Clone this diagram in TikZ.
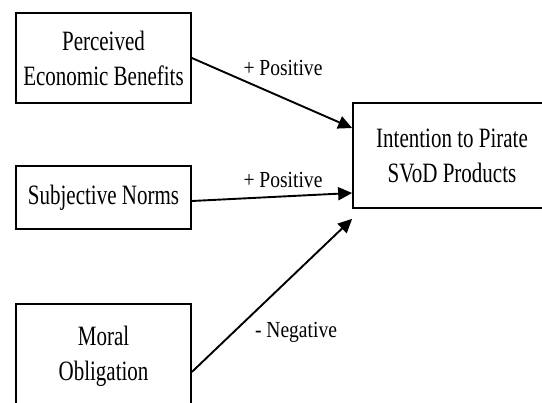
\documentclass[tikz,border=0pt]{standalone}
\usepackage{fontspec}
\setmainfont{Liberation Serif}[FakeStretch=0.75]
\newfontfamily\signfont{Liberation Serif}[FakeStretch=0.85]
\usepackage{tikz}
\usetikzlibrary{arrows.meta}

\begin{document}
\begin{tikzpicture}[x=1pt, y=-1pt,
    factor/.style={draw, rectangle, line width=1.7pt, align=center, inner sep=2pt,
        font=\fontsize{28}{35}\selectfont},
    link/.style={-{Triangle[length=14pt, width=13pt]}, line width=1.9pt},
    sign/.style={font=\signfont\fontsize{23}{28}\selectfont, inner sep=1pt}]
        \path[use as bounding box, clip] (0,0) rectangle (542,403);

        % Antecedents
        \node[factor, minimum width=175pt, minimum height=90pt] (benefit) at (103.5, 58) {Perceived\\Economic Benefits};
        \node[factor, minimum width=175pt, minimum height=63pt] (norms) at (103.5, 197.5) {Subjective Norms};
        \node[factor, minimum width=175pt, minimum height=104pt] (moral) at (103.5, 356) {Moral\\Obligation};

        % Outcome
        \node[factor, minimum width=198pt, minimum height=105pt] (intent) at (452, 155.5) {Intention to Pirate\\SVoD Products};

        % Paths with their signs
        \draw[link] (benefit.east) -- ([yshift=27.5pt]intent.west);
        \draw[link] ([yshift=-3.5pt]norms.east) -- ([yshift=-37.5pt]intent.west);
        \draw[link] ([yshift=-16pt]moral.east) -- ([yshift=-10pt]intent.south west);

        \node[sign] (pos1) at (283, 68) {+ Positive};
        \node[sign] (pos2) at (283, 180) {+ Positive};
        \node[sign] (neg) at (296, 332) {- Negative};
    \end{tikzpicture}
\end{document}
